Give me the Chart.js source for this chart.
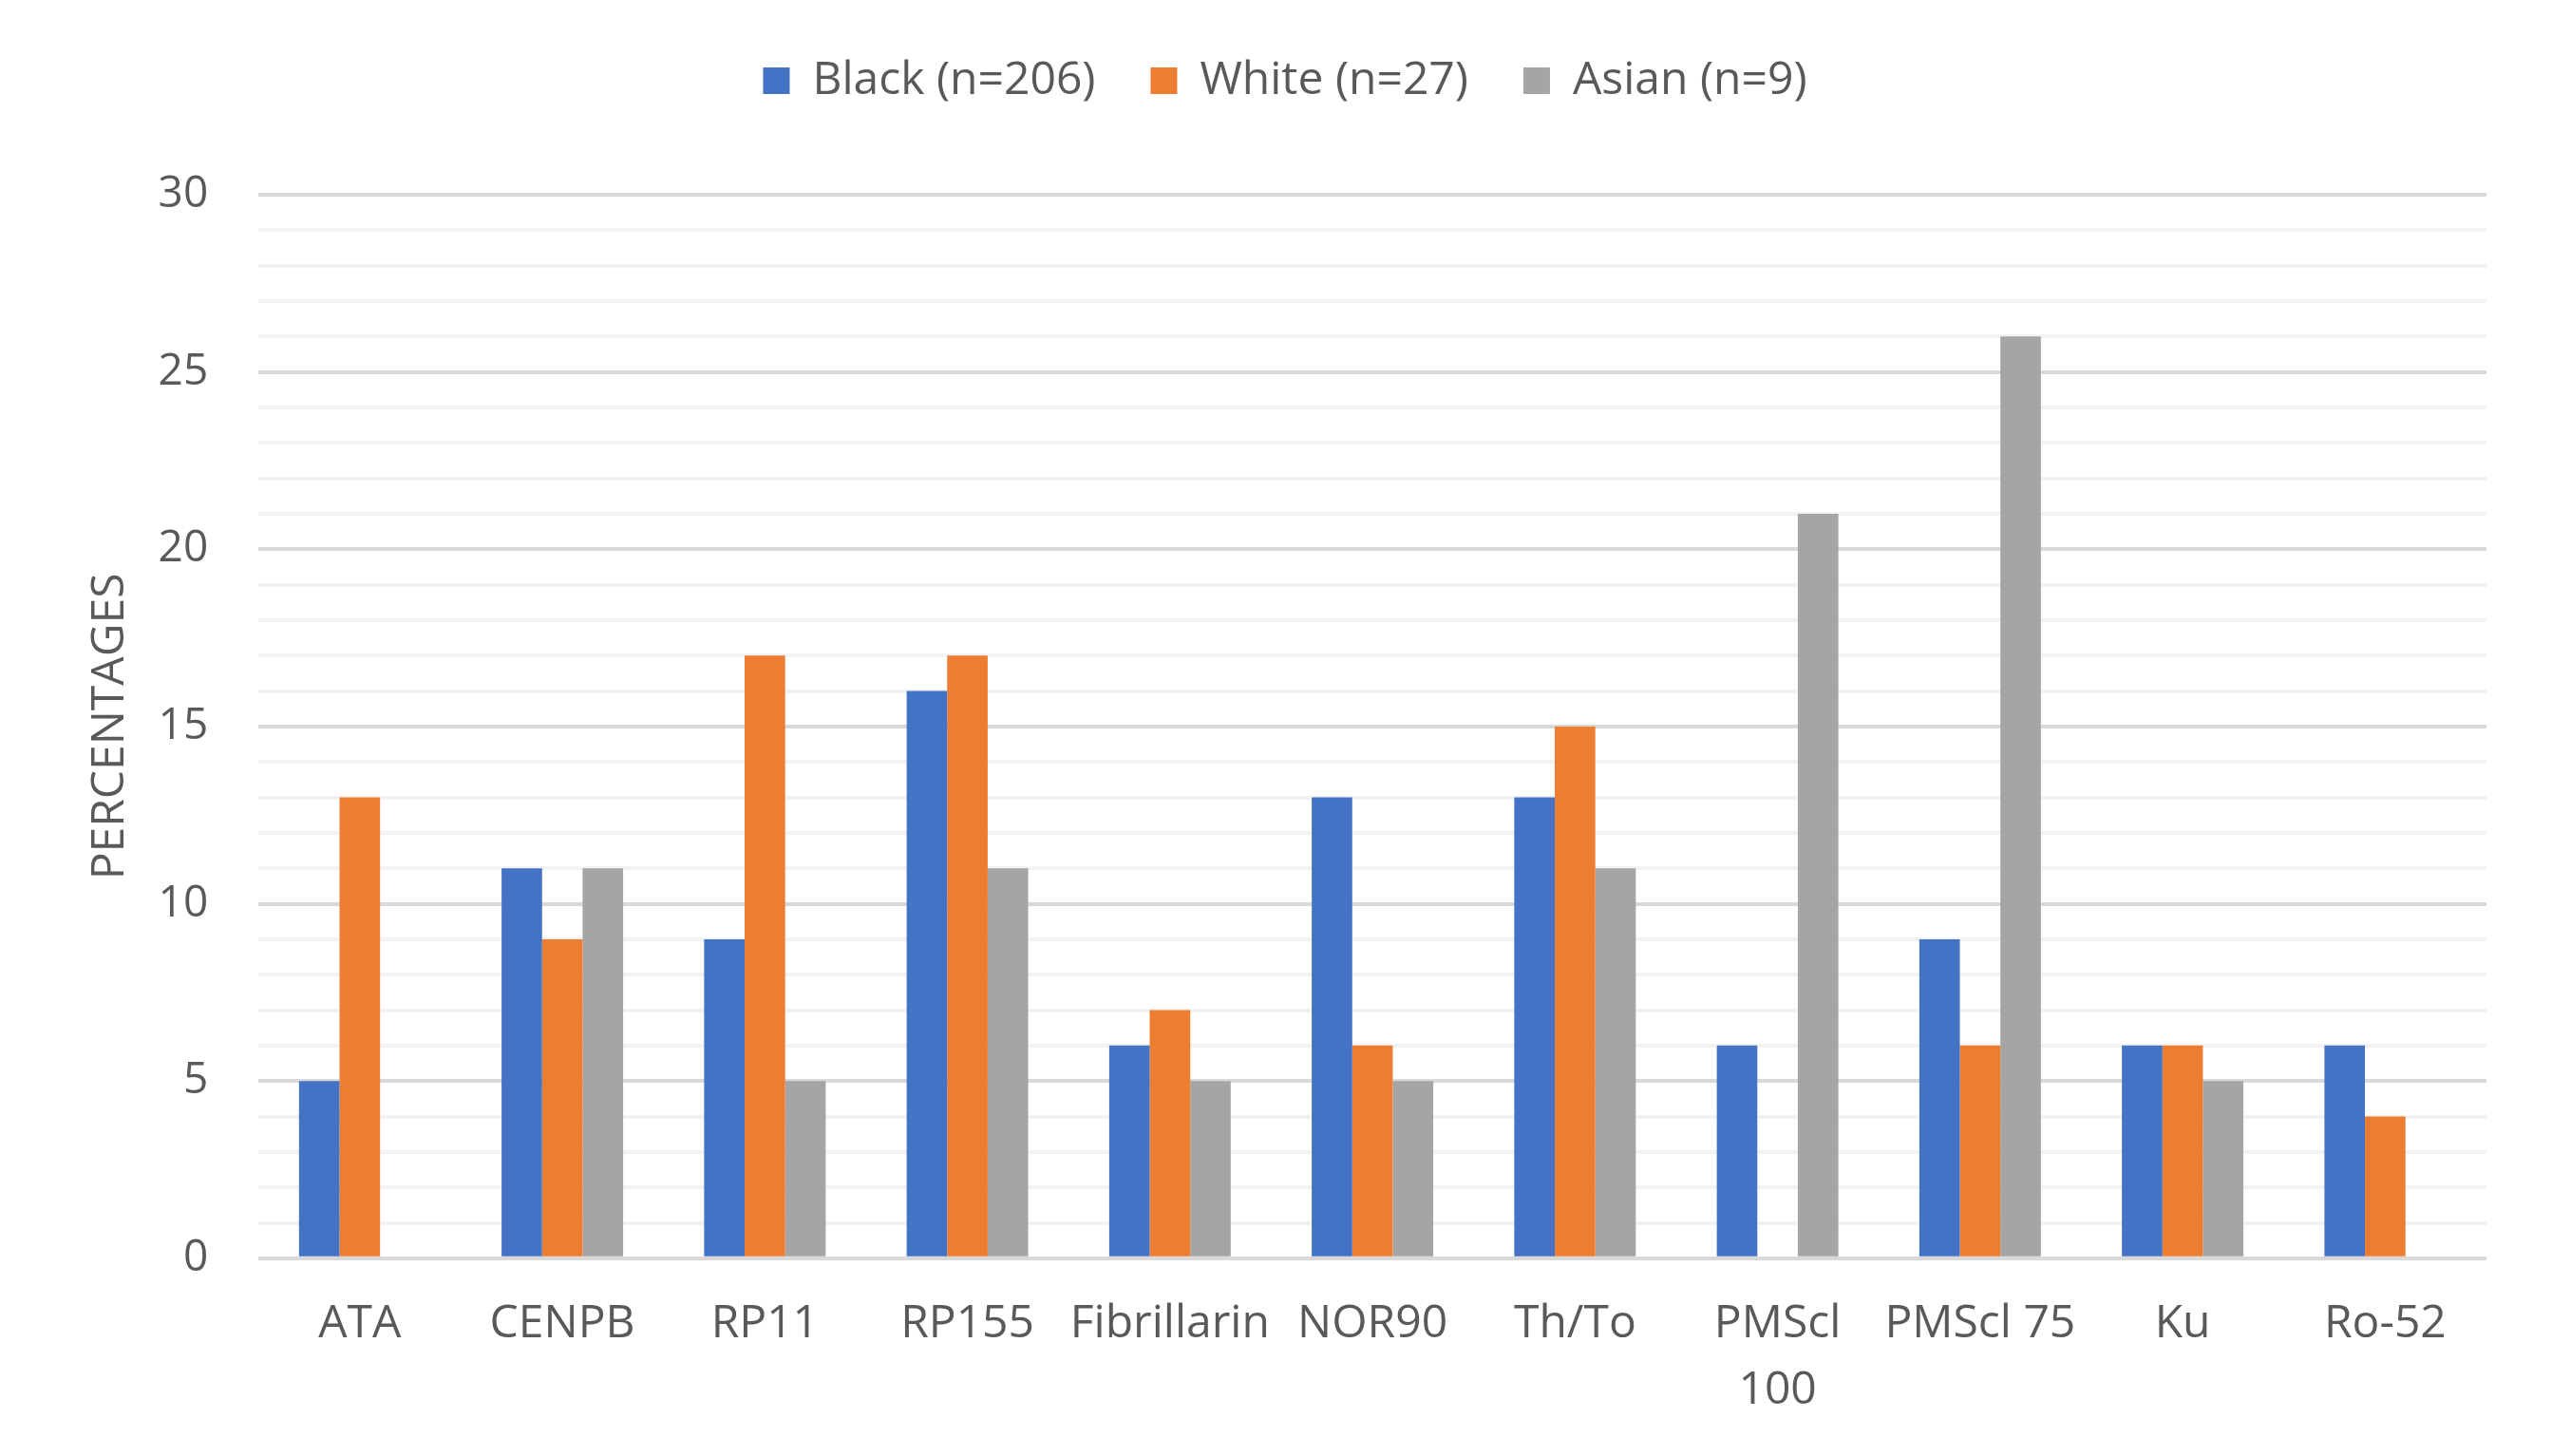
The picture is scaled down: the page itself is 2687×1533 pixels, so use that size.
<!DOCTYPE html>
<html>
<head>
<meta charset="utf-8">
<script src="https://cdn.jsdelivr.net/npm/chart.js@4"></script>
<style>
  html, body { margin: 0; padding: 0; background: #ffffff; }
  #wrap { width: 2687px; height: 1533px; }
</style>
</head>
<body>
<div id="wrap"><canvas id="chart"></canvas></div>
<script>
// categories and values
var categories = ["ATA", "CENPB", "RP11", "RP155", "Fibrillarin", "NOR90", "Th/To", ["PMScl", "100"], "PMScl 75", "Ku", "Ro-52"];
var black = [5, 11, 9, 16, 6, 13, 13, 6, 9, 6, 6];
var white = [13, 9, 17, 17, 7, 6, 15, 0, 6, 6, 4];
var asian = [0, 11, 5, 11, 5, 5, 11, 21, 26, 5, 0];
var seriesNames = ["Black (n=206)", "White (n=27)", "Asian (n=9)"];
var yTicks = [0, 5, 10, 15, 20, 25, 30];

var textColor = "#595959";
var fontName = "'Open Sans', 'Noto Sans', sans-serif";

// extra room under the legend
var legendGap = {
    id: "legendGap",
    beforeInit: function (chart) {
        var fit = chart.legend.fit;
        chart.legend.fit = function () {
            fit.bind(chart.legend)();
            this.height += 86;
        };
    }
};

new Chart(document.getElementById("chart"), {
    type: "bar",
    data: {
        labels: categories,
        datasets: [
            { label: seriesNames[0], data: black, backgroundColor: "#4472c4" },
            { label: seriesNames[1], data: white, backgroundColor: "#ed7d31" },
            { label: seriesNames[2], data: asian, backgroundColor: "#a5a5a5" }
        ]
    },
    options: {
        responsive: true,
        maintainAspectRatio: false,
        animation: false,
        devicePixelRatio: 1,
        layout: { padding: { top: 3, left: 88, right: 69, bottom: 0 } },
        datasets: { bar: { categoryPercentage: 0.6, barPercentage: 1 } },
        plugins: {
            legend: {
                position: "top",
                labels: {
                    color: textColor,
                    font: { family: fontName, size: 48 },
                    boxWidth: 28,
                    boxHeight: 28,
                    padding: 58
                }
            },
            tooltip: { enabled: false }
        },
        scales: {
            x: {
                grid: { display: false, drawTicks: false },
                border: { display: false },
                ticks: {
                    color: textColor,
                    font: { family: fontName, size: 48, lineHeight: 1.46 },
                    padding: 34,
                    maxRotation: 0,
                    autoSkip: false
                }
            },
            y: {
                min: 0,
                max: 30,
                border: { display: false },
                grid: {
                    drawTicks: false,
                    lineWidth: 4,
                    color: function (ctx) {
                        return yTicks.indexOf(ctx.tick.value) >= 0 ? "#d9d9d9" : "#f2f2f2";
                    }
                },
                ticks: {
                    stepSize: 1,
                    autoSkip: false,
                    color: textColor,
                    font: { family: fontName, size: 46 },
                    padding: 53,
                    callback: function (v) {
                        return yTicks.indexOf(v) >= 0 ? v : "";
                    }
                },
                title: {
                    display: true,
                    text: "PERCENTAGES",
                    color: textColor,
                    font: { family: fontName, size: 48, lineHeight: 1.2 },
                    padding: { top: 0, bottom: -32 }
                }
            }
        }
    },
    plugins: [legendGap]
});
</script>
</body>
</html>
